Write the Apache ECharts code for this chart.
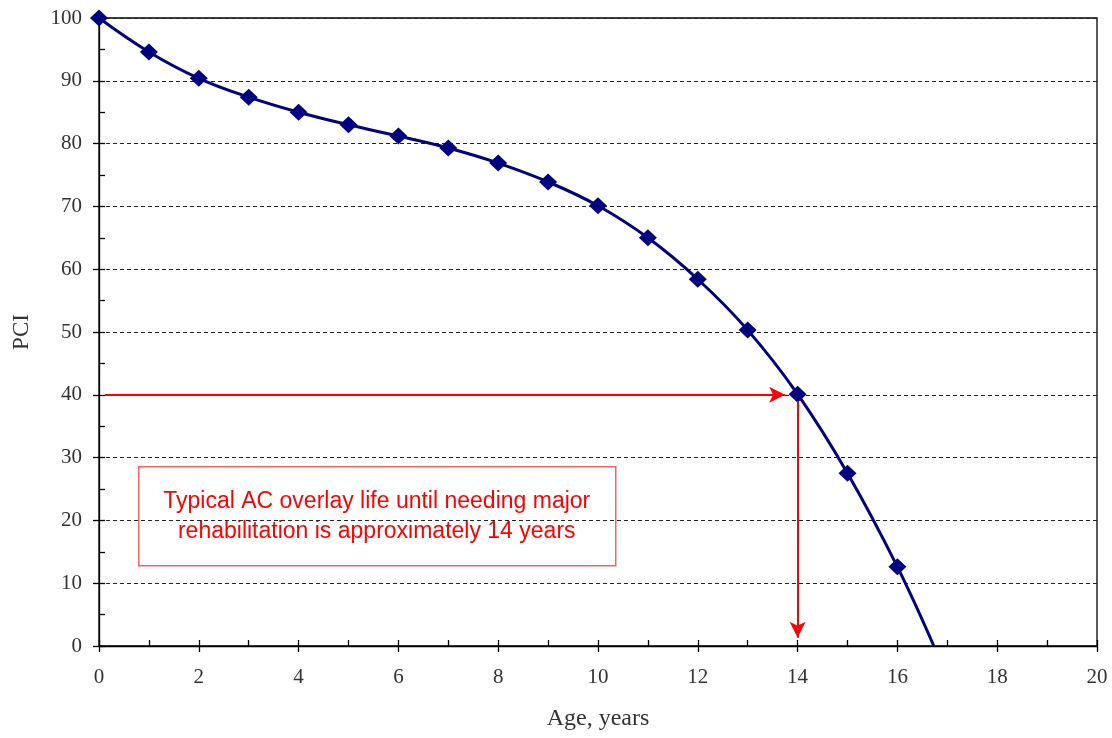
<!DOCTYPE html>
<html>
<head>
<meta charset="utf-8">
<script src="https://cdn.jsdelivr.net/npm/echarts@6/dist/echarts.min.js"></script>
<style>
html,body{margin:0;padding:0;background:#fff;}
#chart{width:1112px;height:738px;}
</style>
</head>
<body>
<div id="chart"></div>
<script>
// Data
const ages = [0, 1, 2, 3, 4, 5, 6, 7, 8, 9, 10, 11, 12, 13, 14, 15, 16];
const pci = [100, 94.6, 90.4, 87.4, 85.0, 83.0, 81.2, 79.3, 76.9, 73.9, 70.1, 65.0, 58.4, 50.3, 40.1, 27.5, 12.6];
const curveEnd = [16.73, 0];           // where the fitted curve crosses PCI = 0
const thresholdPCI = 40;
const thresholdAge = 14;
const noteLines = ['Typical AC overlay life until needing major', 'rehabilitation is approximately 14 years'];
const xTitle = 'Age, years';
const yTitle = 'PCI';

const pts = ages.map((a, i) => [a, pci[i]]);
const curve = pts.concat([curveEnd]);

const serif = 'Liberation Serif';
const chart = echarts.init(document.getElementById('chart'));
const axisLineStyle = { color: '#000', width: 1.3 };

chart.setOption({
  animation: false,
  backgroundColor: '#fff',
  grid: { left: 99, right: 15, top: 18, bottom: 92, show: true, borderColor: '#000', borderWidth: 1.3, backgroundColor: 'transparent' },
  xAxis: [
    {
      type: 'value', min: 0, max: 20, interval: 2,
      name: xTitle, nameLocation: 'middle', nameGap: 61,
      nameTextStyle: { fontFamily: serif, fontSize: 24, color: '#333' },
      axisLine: { lineStyle: axisLineStyle },
      axisTick: { show: true, length: 6, lineStyle: axisLineStyle },
      axisLabel: { fontFamily: serif, fontSize: 21, color: '#333', margin: 21 },
      splitLine: { show: false }
    },
    {
      type: 'value', min: 0, max: 20, interval: 1, position: 'bottom',
      axisLine: { show: false },
      axisTick: { show: true, inside: true, length: 6, lineStyle: axisLineStyle },
      axisLabel: { show: false }, splitLine: { show: false }
    }
  ],
  yAxis: [
    {
      type: 'value', min: 0, max: 100, interval: 10,
      name: yTitle, nameLocation: 'middle', nameGap: 66, nameRotate: 90,
      nameTextStyle: { fontFamily: serif, fontSize: 23, color: '#333' },
      axisLine: { show: true, lineStyle: axisLineStyle },
      axisTick: { show: true, length: 6, lineStyle: axisLineStyle },
      axisLabel: { fontFamily: serif, fontSize: 21, color: '#333', margin: 17 },
      splitLine: { show: true, lineStyle: { color: '#222', width: 1, type: [4, 3] } }
    },
    {
      type: 'value', min: 0, max: 100, interval: 5, position: 'left',
      axisLine: { show: false },
      axisTick: { show: true, inside: true, length: 6, lineStyle: axisLineStyle },
      axisLabel: { show: false }, splitLine: { show: false }
    }
  ],
  series: [
    {
      type: 'line', data: curve, smooth: 0.4, showSymbol: false, clip: false,
      lineStyle: { color: '#000080', width: 3 },
      z: 3,
      markLine: {
        silent: true, animation: false,
        symbol: ['none', 'arrow'], symbolSize: [12, 16],
        label: { show: false },
        lineStyle: { color: '#ff0000', width: 2, type: 'solid' },
        data: [
          [{ coord: [0.12, thresholdPCI] }, { coord: [thresholdAge - 0.25, thresholdPCI] }],
          [{ coord: [thresholdAge, thresholdPCI - 1] }, { coord: [thresholdAge, 1.3] }]
        ]
      }
    },
    {
      type: 'scatter', data: pts, symbol: 'diamond', symbolSize: [18, 17], clip: false,
      itemStyle: { color: '#000080', opacity: 1 }, z: 4
    }
  ],
  graphic: [
    {
      type: 'group', left: 138, top: 466, z: 10,
      children: [
        { type: 'rect', shape: { x: 0, y: 0, width: 477, height: 99 }, style: { fill: '#fff', stroke: '#f26565', lineWidth: 1.5 } },
        { type: 'text', x: 238, y: 35, style: { text: noteLines[0], fill: '#ff0000', font: '23px "Liberation Sans"', align: 'center', verticalAlign: 'middle' } },
        { type: 'text', x: 238, y: 65, style: { text: noteLines[1], fill: '#ff0000', font: '23px "Liberation Sans"', align: 'center', verticalAlign: 'middle' } }
      ]
    }
  ]
});
</script>
</body>
</html>
